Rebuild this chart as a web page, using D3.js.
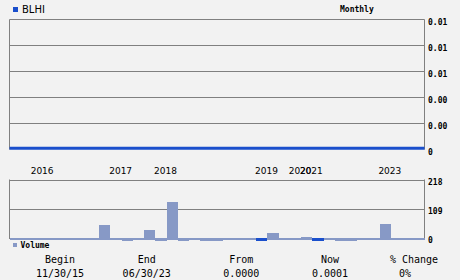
<!DOCTYPE html>
<html><head><meta charset="utf-8">
<script src="https://cdn.jsdelivr.net/npm/d3@7"></script>
<style>
html,body{margin:0;padding:0;background:#f2f2f2;}
svg{display:block;}
</style></head>
<body>
<svg id="c" width="460" height="280"></svg>
<script>
const symbol = "BLHI";
const periodLabel = "Monthly";
const months = ["2015-11","2015-12",
  "2016-01","2016-02","2016-03","2016-05","2016-07","2016-09","2016-11",
  "2017-01","2017-03","2017-06","2017-10",
  "2018-01","2018-02","2018-03","2018-04","2018-05","2018-07","2018-08","2018-10","2018-12",
  "2019-02","2019-06","2019-10",
  "2020-08",
  "2021-01","2021-02","2021-03","2021-05","2021-07","2021-09","2021-11",
  "2023-01","2023-03","2023-05","2023-06"];
const prices = [0.0001,0.0001,0.0001,0.0001,0.0001,0.0001,0.0001,0.0001,0.0001,0.0001,
  0.0001,0.0001,0.0001,0.0001,0.0001,0.0001,0.0001,0.0001,0.0001,0.0001,
  0.0001,0.0001,0.0001,0.0001,0.0001,0.0001,0.0001,0.0001,0.0001,0.0001,
  0.0001,0.0001,0.0001,0.0001,0.0001,0.0001,0.0001];
const volumes = [1,1,1,1,1,1,1,1,50,1,
  0,1,30,0,134,0,1,0,0,1,
  1,1,0,20,1,1,5,0,1,0,
  0,1,1,53,1,1,1];
const highlightedBars = [22, 27];
const priceTicks = [0, 0.002, 0.004, 0.006, 0.008, 0.01];
const priceTickLabels = ["0", "0.00", "0.00", "0.01", "0.01", "0.01"];
const volumeTicks = [0, 109, 218];
const summaryHeads = ["Begin", "End", "From", "Now", "% Change"];
const summaryValues = ["11/30/15", "06/30/23", "0.0000", "0.0001", "0%"];

const svg = d3.select("#c");
const L = 9.5, R = 424.5;
const blue = "#1a4fcc", volCol = "#8799c6", grid = "#808080";
const mono = "'DejaVu Sans Mono', monospace";

// header
svg.append("rect").attr("x", 13).attr("y", 7).attr("width", 5).attr("height", 5).attr("fill", blue);
svg.append("text").attr("x", 22).attr("y", 13).attr("font-family", "'DejaVu Sans', sans-serif")
  .attr("font-size", 10).attr("fill", "#000").text(symbol);
svg.append("text").attr("x", 340).attr("y", 12).attr("font-family", mono)
  .attr("font-size", 8).attr("font-weight", "bold").attr("fill", "#000").text(periodLabel);

// price panel
const x = d3.scaleBand().domain(d3.range(months.length)).range([L, R]).padding(0);
const xp = d3.scalePoint().domain(d3.range(months.length)).range([L, R]);
const yP = d3.scaleLinear().domain([0, 0.01]).range([149.5, 19.5]);

const pg = svg.append("g");
pg.selectAll("line.g").data(priceTicks.filter(t => t > 0)).join("line")
  .attr("x1", L).attr("x2", R).attr("y1", d => yP(d)).attr("y2", d => yP(d))
  .attr("stroke", grid).attr("stroke-width", 1);
pg.append("line").attr("x1", L).attr("x2", L).attr("y1", yP(0.01)).attr("y2", yP(0))
  .attr("stroke", grid);
pg.append("line").attr("x1", R).attr("x2", R).attr("y1", yP(0.01)).attr("y2", yP(0))
  .attr("stroke", grid);
pg.selectAll("text").data(priceTicks).join("text")
  .attr("x", 428).attr("y", d => yP(d) + 5)
  .attr("font-family", mono).attr("font-size", 8).attr("font-weight", "bold")
  .attr("fill", "#000").text((d, i) => priceTickLabels[i]);

const line = d3.line().x((d, i) => xp(i)).y(d => yP(d));
svg.append("path").datum(prices).attr("d", line).attr("fill", "none")
  .attr("stroke", blue).attr("stroke-width", 3);

// year labels
const yearIdx = months.map((m, i) => i).filter(i => i > 0 && months[i].slice(0, 4) !== months[i - 1].slice(0, 4));
svg.append("g").selectAll("text").data(yearIdx).join("text")
  .attr("x", i => x(i) + x.bandwidth() * 0.91).attr("y", 173.5)
  .attr("text-anchor", "middle").attr("font-family", "'DejaVu Sans', sans-serif")
  .attr("font-size", 9).attr("fill", "#000").text(i => months[i].slice(0, 4));

// volume panel
const yV = d3.scaleLinear().domain([0, 218]).range([238, 179.5]);
const vg = svg.append("g");
vg.selectAll("line.g").data(volumeTicks.filter(t => t > 0)).join("line")
  .attr("x1", L).attr("x2", R).attr("y1", d => Math.round(yV(d)) + 0.5).attr("y2", d => Math.round(yV(d)) + 0.5)
  .attr("stroke", grid);
vg.append("line").attr("x1", L).attr("x2", L).attr("y1", 179.5).attr("y2", 239).attr("stroke", grid);
vg.append("line").attr("x1", R).attr("x2", R).attr("y1", 179.5).attr("y2", 239).attr("stroke", grid);
vg.selectAll("text").data(volumeTicks).join("text")
  .attr("x", 428).attr("y", d => yV(d) + 5)
  .attr("font-family", mono).attr("font-size", 8).attr("font-weight", "bold")
  .attr("fill", "#000").text(d => d);

const base = yV(0) + 2;
vg.selectAll("rect").data(volumes).join("rect")
  .attr("x", (d, i) => x(i)).attr("width", x.bandwidth())
  .attr("y", d => d === 0 ? yV(0) : Math.min(yV(d), yV(0)))
  .attr("height", d => d === 0 ? 3 : base - Math.min(yV(d), yV(0)))
  .attr("fill", (d, i) => highlightedBars.includes(i) ? blue : volCol)
  .attr("shape-rendering", "crispEdges");

// volume legend
svg.append("rect").attr("x", 13).attr("y", 243).attr("width", 4).attr("height", 4).attr("fill", volCol);
svg.append("text").attr("x", 20.5).attr("y", 248).attr("font-family", mono)
  .attr("font-size", 8).attr("font-weight", "bold").attr("fill", "#000").text("Volume");

// summary
const headX = [60, 146.7, 241.3, 330, 414];
const valX = [60, 146.7, 241.3, 330, 405];
svg.append("g").selectAll("text").data(summaryHeads).join("text")
  .attr("x", (d, i) => headX[i]).attr("y", 262.5).attr("text-anchor", "middle")
  .attr("font-family", mono).attr("font-size", 10).attr("fill", "#000").text(d => d);
svg.append("g").selectAll("text").data(summaryValues).join("text")
  .attr("x", (d, i) => valX[i]).attr("y", 276.5).attr("text-anchor", "middle")
  .attr("font-family", mono).attr("font-size", 10).attr("fill", "#000").text(d => d);
</script>
</body></html>
